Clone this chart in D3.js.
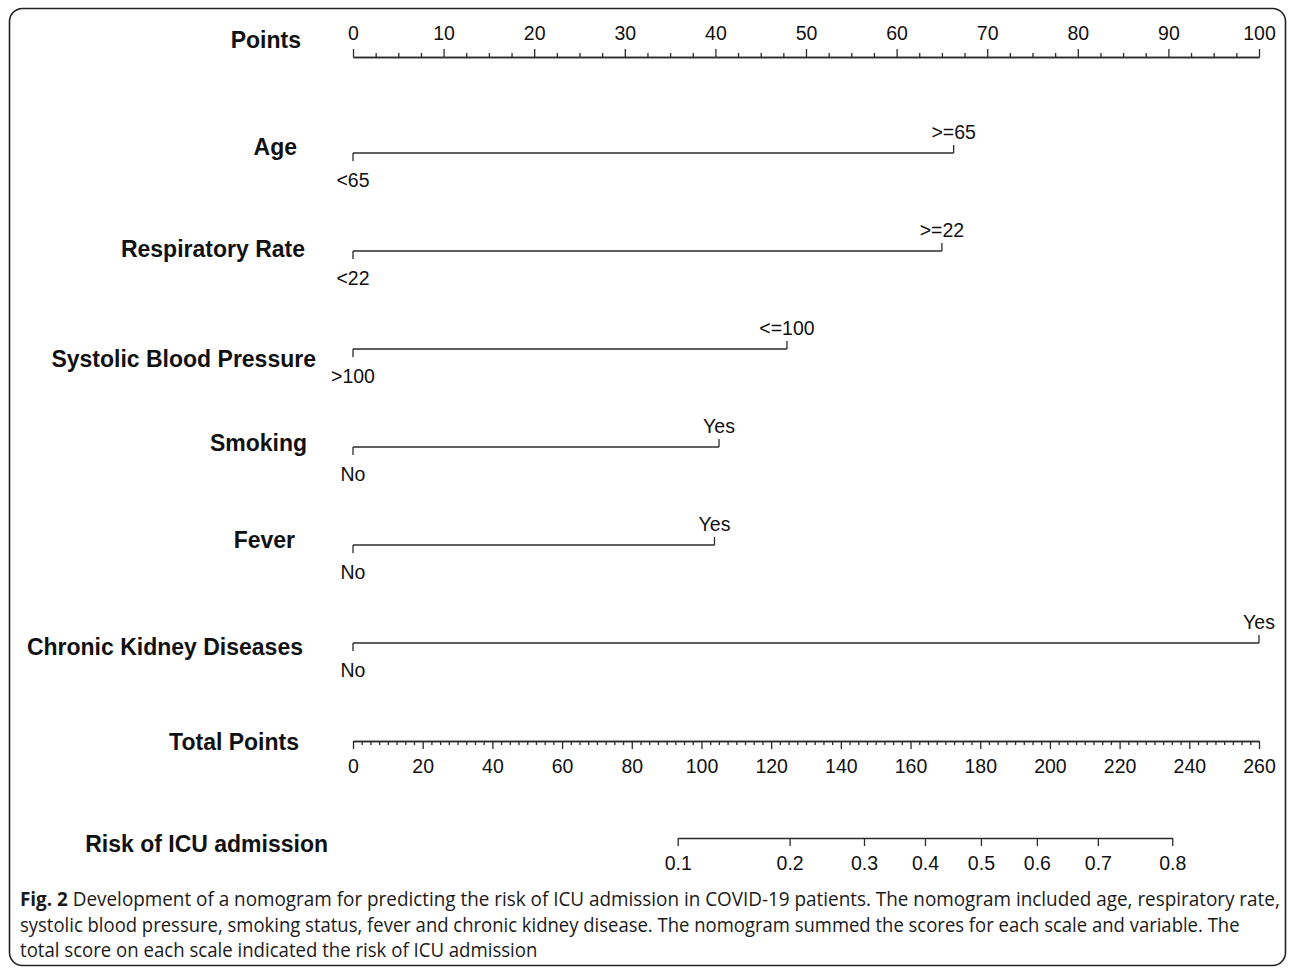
<!DOCTYPE html>
<html>
<head>
<meta charset="utf-8">
<script src="https://cdn.jsdelivr.net/npm/d3@7"></script>
<style>
  html, body { margin: 0; padding: 0; background: #fff; }
  svg { display: block; }
</style>
</head>
<body>
<div id="chart"></div>
<script>
// ---- Nomogram data ----
const pointTickLabels = [0, 10, 20, 30, 40, 50, 60, 70, 80, 90, 100];
const totalTickLabels = [0, 20, 40, 60, 80, 100, 120, 140, 160, 180, 200, 220, 240, 260];
const riskTickLabels = [0.1, 0.2, 0.3, 0.4, 0.5, 0.6, 0.7, 0.8];

const variableNames = ["Age", "Respiratory Rate", "Systolic Blood Pressure", "Smoking", "Fever", "Chronic Kidney Diseases"];
const lowLevels = ["<65", "<22", ">100", "No", "No", "No"];
const highLevels = [">=65", ">=22", "<=100", "Yes", "Yes", "Yes"];
const highLevelPoints = [66.3, 65.0, 47.9, 40.4, 39.9, 100];

// logistic model: linear predictor = intercept + slope * total points
const riskIntercept = -4.55;
const riskSlope = 0.02525;

const captionLines = [
  ["Fig. 2", " Development of a nomogram for predicting the risk of ICU admission in COVID-19 patients. The nomogram included age, respiratory rate,"],
  ["", "systolic blood pressure, smoking status, fever and chronic kidney disease. The nomogram summed the scores for each scale and variable. The"],
  ["", "total score on each scale indicated the risk of ICU admission"]
];

// ---- Layout ----
const W = 1292, H = 968;
const axisX0 = 353, axisX1 = 1259;
const lineColor = "#2b2b2b";
const textColor = "#111";
const tickFont = "'Liberation Sans', Arial, Helvetica, sans-serif";
const tickSize = "19.5px";

const rowY = { points: 57, vars: [153, 251, 349, 447, 545, 643], total: 741, risk: 838 };
const titleLayout = [
  { text: "Points", xEnd: 301, base: 48 },
  { text: variableNames[0], xEnd: 297, base: 155 },
  { text: variableNames[1], xEnd: 305, base: 257 },
  { text: variableNames[2], xEnd: 316, base: 367 },
  { text: variableNames[3], xEnd: 307, base: 451 },
  { text: variableNames[4], xEnd: 295, base: 548 },
  { text: variableNames[5], xEnd: 303, base: 655 },
  { text: "Total Points", xEnd: 299, base: 750 },
  { text: "Risk of ICU admission", xEnd: 328, base: 852 }
];

const svg = d3.select("#chart").append("svg")
  .attr("width", W).attr("height", H)
  .attr("viewBox", `0 0 ${W} ${H}`);

// figure frame
svg.append("rect")
  .attr("x", 9.5).attr("y", 8.5)
  .attr("width", 1276).attr("height", 957)
  .attr("rx", 13).attr("ry", 13)
  .attr("fill", "none").attr("stroke", "#222").attr("stroke-width", 1.6);

const xPoints = d3.scaleLinear().domain([0, 100]).range([axisX0, axisX1]);
const xTotal = d3.scaleLinear().domain([0, 260]).range([axisX0, axisX1]);
const logit = p => Math.log(p / (1 - p));
const totalForRisk = p => (logit(p) - riskIntercept) / riskSlope;

function styleAxis(g) {
  g.select(".domain").attr("stroke", lineColor).attr("stroke-width", 1.5);
  g.selectAll(".tick line").attr("stroke", lineColor).attr("stroke-width", 1.3);
  g.selectAll(".tick text")
    .attr("fill", textColor)
    .style("font-family", tickFont)
    .style("font-size", tickSize);
}

// ---- Points scale (top) ----
const minorPoints = d3.range(0, 100.01, 2.5).filter(v => v % 10 !== 0);
svg.append("g")
  .attr("transform", `translate(0,${rowY.points})`)
  .call(d3.axisTop(xPoints).tickValues(minorPoints).tickSize(4).tickSizeOuter(0).tickFormat(""))
  .call(styleAxis);
svg.append("g")
  .attr("transform", `translate(0,${rowY.points})`)
  .call(d3.axisTop(xPoints).tickValues(pointTickLabels).tickSize(8).tickSizeOuter(0).tickPadding(9).tickFormat(d3.format("d")))
  .call(styleAxis);

// ---- Predictor scales ----
variableNames.forEach((name, i) => {
  const y = rowY.vars[i];
  const g = svg.append("g").attr("class", "predictor");
  const x0 = xPoints(0), x1 = xPoints(highLevelPoints[i]);
  g.append("line")
    .attr("x1", x0).attr("x2", x1).attr("y1", y).attr("y2", y)
    .attr("stroke", lineColor).attr("stroke-width", 1.5);
  g.append("line")
    .attr("x1", x0).attr("x2", x0).attr("y1", y).attr("y2", y + 8)
    .attr("stroke", lineColor).attr("stroke-width", 1.3);
  g.append("line")
    .attr("x1", x1).attr("x2", x1).attr("y1", y).attr("y2", y - 8)
    .attr("stroke", lineColor).attr("stroke-width", 1.3);
  g.append("text")
    .attr("x", x0).attr("y", y + 34)
    .attr("text-anchor", "middle")
    .attr("fill", textColor)
    .style("font-family", tickFont).style("font-size", tickSize)
    .text(lowLevels[i]);
  g.append("text")
    .attr("x", x1).attr("y", y - 14)
    .attr("text-anchor", "middle")
    .attr("fill", textColor)
    .style("font-family", tickFont).style("font-size", tickSize)
    .text(highLevels[i]);
});

// ---- Total points scale ----
const minorTotal = d3.range(0, 260.01, 2.5).filter(v => v % 20 !== 0);
svg.append("g")
  .attr("transform", `translate(0,${rowY.total})`)
  .call(d3.axisBottom(xTotal).tickValues(minorTotal).tickSize(4).tickSizeOuter(0).tickFormat(""))
  .call(styleAxis);
svg.append("g")
  .attr("transform", `translate(0,${rowY.total})`)
  .call(d3.axisBottom(xTotal).tickValues(totalTickLabels).tickSize(8).tickSizeOuter(0).tickPadding(10).tickFormat(d3.format("d")))
  .call(styleAxis);

// ---- Risk scale (positions from the logistic model) ----
const riskTotals = riskTickLabels.map(totalForRisk);
const xRisk = d3.scaleLinear()
  .domain([riskTotals[0], riskTotals[riskTotals.length - 1]])
  .range([xTotal(riskTotals[0]), xTotal(riskTotals[riskTotals.length - 1])]);
svg.append("g")
  .attr("transform", `translate(0,${rowY.risk})`)
  .call(d3.axisBottom(xRisk).tickValues(riskTotals).tickSize(8).tickSizeOuter(0).tickPadding(10)
    .tickFormat((d, i) => riskTickLabels[i]))
  .call(styleAxis);

// ---- Row titles ----
svg.append("g").selectAll("text")
  .data(titleLayout)
  .join("text")
  .attr("x", d => d.xEnd).attr("y", d => d.base)
  .attr("text-anchor", "end")
  .attr("fill", textColor)
  .style("font-family", tickFont)
  .style("font-weight", "bold")
  .style("font-size", "23px")
  .text(d => d.text);

// ---- Caption (each line squeezed horizontally to its set width) ----
const captionWidths = [1261, 1220, 518];
captionLines.forEach((parts, i) => {
  const g = svg.append("g");
  const t = g.append("text")
    .attr("x", 0).attr("y", 0)
    .attr("fill", "#1a1a1a")
    .style("font-family", "'Open Sans', 'Noto Sans', sans-serif")
    .style("font-size", "20px");
  if (parts[0]) t.append("tspan").style("font-weight", "bold").text(parts[0]);
  t.append("tspan").text(parts[1]);
  const natural = t.node().getComputedTextLength();
  const sx = Math.min(1, captionWidths[i] / natural);
  g.attr("transform", `translate(20,${906 + i * 25.5}) scale(${sx},1)`);
});
</script>
</body>
</html>
